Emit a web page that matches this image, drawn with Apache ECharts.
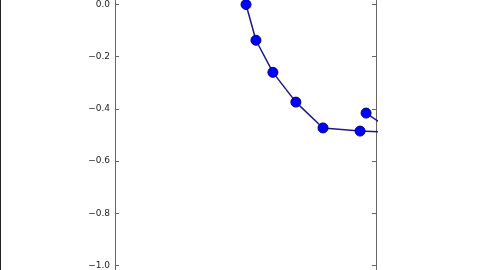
<!DOCTYPE html>
<html>
<head>
<meta charset="utf-8">
<script src="https://cdn.jsdelivr.net/npm/echarts@6/dist/echarts.min.js"></script>
<style>html,body{margin:0;padding:0;background:#fff}#c{width:480px;height:270px}</style>
</head>
<body>
<div id="c"></div>
<script>
// Data (x on an arbitrary 0..10 scale, y as labelled)
const xs = [5.02, 5.40, 6.05, 6.93, 7.97, 9.39, 10.7, 11.0, 10.35, 9.62];
const ys = [0.0, -0.137, -0.26, -0.374, -0.473, -0.485, -0.49, -0.44, -0.465, -0.416];
const yTicks = [-1.0, -0.8, -0.6, -0.4, -0.2, 0.0];

const chart = echarts.init(document.getElementById('c'), null, {renderer: 'canvas'});
const pts = xs.map((x, i) => [x, ys[i]]);
const fmt = v => (v < 0 ? '\u2212' : '') + Math.abs(v).toFixed(1);
const yBase = {
  type: 'value', min: -1.0153, max: 0.0153,
  splitLine: {show: false},
  axisLine: {show: true, lineStyle: {color: '#666', width: 1}},
  axisTick: {show: true, inside: true, length: 4, customValues: yTicks, lineStyle: {color: '#666'}},
};
chart.setOption({
  animation: false,
  backgroundColor: '#fff',
  grid: {left: 115, right: 104, top: 0, bottom: 0},
  xAxis: {type: 'value', min: 0, max: 10, show: false},
  yAxis: [
    Object.assign({}, yBase, {position: 'left',
      axisLabel: {show: true, customValues: yTicks, formatter: fmt, fontFamily: 'DejaVu Sans', fontSize: 9, color: '#222', margin: 5}}),
    Object.assign({}, yBase, {position: 'right', axisLabel: {show: false}})
  ],
  graphic: [{type: 'rect', shape: {x: 0, y: 0, width: 1, height: 270}, style: {fill: '#222'}}],
  series: [{
    type: 'line', data: pts, clip: true,
    symbol: 'circle', symbolSize: 10,
    lineStyle: {color: '#1a1a8a', width: 1.5},
    itemStyle: {color: '#0000ff', borderColor: '#00008b', borderWidth: 1}
  }]
});
</script>
</body>
</html>
